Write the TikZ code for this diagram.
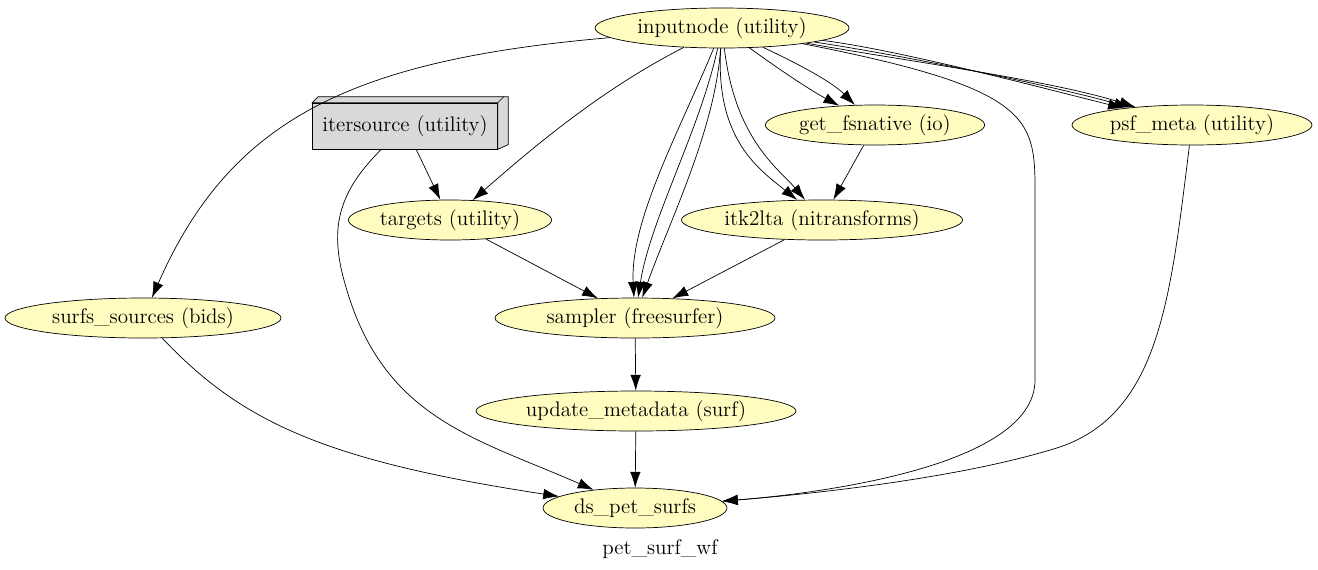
\documentclass[tikz,border=0pt]{standalone}
\usetikzlibrary{arrows.meta, shapes.geometric, positioning}
\begin{document}
\begin{tikzpicture}[x=0.02cm, y=-0.02cm,
    proc/.style={ellipse, draw, fill=yellow!25, font=\large, minimum height=0.8cm, inner sep=1pt},
    flow/.style={-{Latex[length=9pt,width=6pt]}}]
    \useasboundingbox (0,0) rectangle (1318,569);
    \node[proc, minimum width=5.08cm] (inputnode) at (722,28) {inputnode (utility)};
    \node[draw, fill=gray!30, font=\large, minimum width=3.7cm, minimum height=0.92cm] (itersource) at (405,126) {itersource (utility)};
    \draw[fill=gray!30] (itersource.north west) -- ++(6,-6) -- ++(190,0) -- ++(0,48) -- (itersource.south east) -- (itersource.north east) -- cycle;
    \draw (itersource.north east) -- ++(6,-6);
    \node[proc, minimum width=3.8cm] (fsnative) at (875,125) {get\_fsnative (io)};
    \node[proc, minimum width=4.8cm] (psfmeta) at (1192,125) {psf\_meta (utility)};
    \node[proc, minimum width=3.92cm] (targets) at (450,220) {targets (utility)};
    \node[proc, minimum width=5cm] (itk2lta) at (822,220) {itk2lta (nitransforms)};
    \node[proc, minimum width=5.52cm] (surfs) at (143,318) {surfs\_sources (bids)};
    \node[proc, minimum width=5.6cm] (sampler) at (635,318) {sampler (freesurfer)};
    \node[proc, minimum width=6.4cm] (update) at (636,411) {update\_metadata (surf)};
    \node[proc, minimum width=3.68cm] (ds) at (635,508) {ds\_pet\_surfs};
    \node[font=\large] (wf) at (660,549) {pet\_surf\_wf};

    % edges from inputnode
    \draw[flow] (inputnode) .. controls (350,60) and (230,120) .. (surfs);
    \draw[flow] (inputnode) .. controls (600,90) and (530,150) .. (targets);
    \draw[flow] (inputnode) .. controls (680,130) and (630,220) .. (sampler);
    \draw[flow] (inputnode) .. controls (700,130) and (650,220) .. (sampler);
    \draw[flow] (inputnode) .. controls (715,130) and (670,220) .. (sampler);
    \draw[flow] (inputnode) .. controls (715,140) and (760,170) .. (itk2lta);
    \draw[flow] (inputnode) .. controls (735,140) and (780,170) .. (itk2lta);
    \draw[flow] (inputnode) .. controls (780,70) and (810,90) .. (fsnative);
    \draw[flow] (inputnode) .. controls (790,60) and (830,80) .. (fsnative);
    \draw[flow] (inputnode) .. controls (900,60) and (1050,80) .. (psfmeta);
    \draw[flow] (inputnode) .. controls (900,55) and (1050,85) .. (psfmeta);
    \draw[flow] (inputnode) .. controls (900,50) and (1050,90) .. (psfmeta);
    \draw[flow] (inputnode) .. controls (1040,90) and (1035,120) .. (1035,200) -- (1035,380) .. controls (1035,470) and (800,495) .. (ds);
    % remaining edges
    \draw[flow] (itersource) -- (targets);
    \draw[flow] (itersource) .. controls (330,200) and (330,240) .. (350,300) .. controls (390,420) and (480,440) .. (ds);
    \draw[flow] (fsnative) -- (itk2lta);
    \draw[flow] (targets) -- (sampler);
    \draw[flow] (itk2lta) -- (sampler);
    \draw[flow] (psfmeta) .. controls (1170,300) and (1160,420) .. (1050,450) .. controls (950,480) and (800,495) .. (ds);
    \draw[flow] (surfs) .. controls (240,420) and (320,460) .. (ds);
    \draw[flow] (sampler) -- (update);
    \draw[flow] (update) -- (ds);
\end{tikzpicture}
\end{document}
